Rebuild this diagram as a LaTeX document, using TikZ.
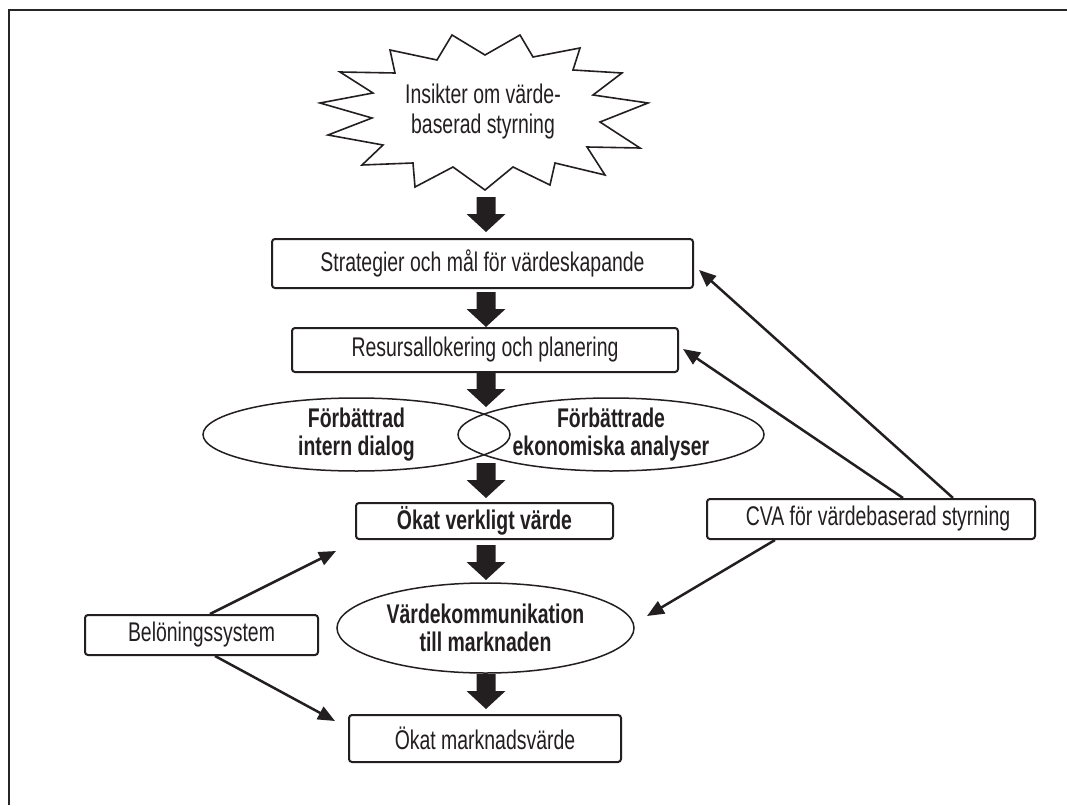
\documentclass[tikz,border=0pt]{standalone}
\usepackage{fontspec}
\setmainfont{Liberation Sans}[FakeStretch=0.72]
\usetikzlibrary{arrows.meta,calc,shapes.geometric}
\definecolor{ink}{HTML}{231F20}
\begin{document}
\begin{tikzpicture}[x=1pt,y=-1pt,
  font=\fontsize{27}{30}\selectfont,
  box/.style={draw=ink, line width=2pt, rounded corners=3pt, inner sep=0pt, align=center, text=ink},
  ell/.style={draw=ink, ellipse, line width=1.5pt, inner sep=0pt},
  elltext/.style={align=center, text=ink, font=\fontsize{27}{27.5}\selectfont\bfseries},
  link/.style={draw=ink, line width=2.5pt, -{Triangle[length=17pt,width=14pt]}},
  bigarrow/.pic={\fill[ink] (-9.5,0) -- (9.5,0) -- (9.5,17) -- (19.5,17) -- (0,35) -- (-19.5,17) -- (-9.5,17) -- cycle;}
]
\useasboundingbox (0,0) rectangle (1067,805);
\fill[white] (0,0) rectangle (1067,805);
% frame
\draw[line width=2pt, color=black!85] (9,805) -- (9,10) -- (1067,10);

% starburst
\draw[ink, line width=1.6pt, line join=miter]
 (452,35) -- (485,55) -- (520,35) -- (533,57) -- (580,48) -- (573,70) -- (622,73)
 -- (593,95) -- (648,103) -- (600,122) -- (640,148) -- (587,147) -- (605,175)
 -- (555,163) -- (550,185) -- (513,167) -- (485,190) -- (453,167) -- (415,187)
 -- (413,163) -- (362,165) -- (383,145) -- (328,135) -- (372,118) -- (320,103)
 -- (373,93) -- (340,72) -- (395,73) -- (390,50) -- (437,60) -- cycle;
\node[align=center, text=ink] (ins) at (483,112) {Insikter om värde-\\baserad styrning};

% main boxes
\node[box, minimum width=421pt, minimum height=49pt] (b1) at (482.5,263.5) {Strategier och mål för värdeskapande};
\node[box, minimum width=386pt, minimum height=44pt] (b2) at (485,350) {Resursallokering och planering};
\node[ell, minimum width=307pt, minimum height=73pt, label={[elltext]center:Förbättrad\\intern dialog}] (eL) at (356.5,434.5) {};
\node[ell, minimum width=306pt, minimum height=73pt, label={[elltext]center:Förbättrade\\ekonomiska analyser}] (eR) at (611,434.5) {};
\node[box, minimum width=257pt, minimum height=36pt, font=\fontsize{27}{30}\selectfont\bfseries] (okv) at (484.5,521) {Ökat verkligt värde};
\node[ell, minimum width=297pt, minimum height=90pt, label={[elltext]center:Värdekommunikation\\till marknaden}] (vk) at (485.5,628) {};
\node[box, minimum width=272pt, minimum height=47pt] (okm) at (485,738.5) {Ökat marknadsvärde};
\node[box, minimum width=328pt, minimum height=40pt] (cva) at (871,519) {\hspace{14pt}CVA för värdebaserad styrning};
\node[box, minimum width=233pt, minimum height=40pt] (bel) at (201.5,635) {Belöningssystem};

% big block arrows
\pic at (486,197) {bigarrow};
\pic at (486,292) {bigarrow};
\pic at (486,372) {bigarrow};
\pic at (486,463) {bigarrow};
\pic at (486,545) {bigarrow};
\pic at (486,674) {bigarrow};

% thin connectors
\coordinate (e1) at (699,270);
\coordinate (e2) at (683,349);
\coordinate (e3) at (647,616);
\coordinate (e4) at (336,551);
\coordinate (e5) at (335,721);
\draw[link] ([xshift=82pt]cva.north) -- (e1);
\draw[link] ([xshift=32pt]cva.north) -- (e2);
\draw[link] ([xshift=-96pt]cva.south) -- (e3);
\draw[link] ([xshift=8.5pt]bel.north) -- (e4);
\draw[link] ([xshift=13.5pt]bel.south) -- (e5);
\end{tikzpicture}
\end{document}
